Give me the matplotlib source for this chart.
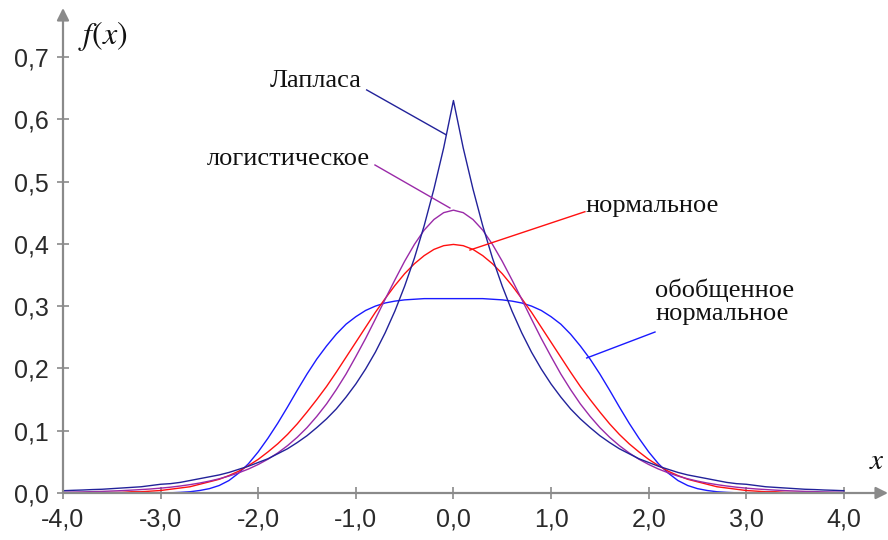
import numpy as np
import matplotlib
matplotlib.use("Agg")
import matplotlib.pyplot as plt

plt.rcParams['mathtext.fontset'] = 'stix'

# ---- data ----
x = np.round(np.arange(-40, 41) / 10.0, 1)   # -4.0 ... 4.0 step 0.1

laplace = [
    0.0037, 0.0043, 0.0048, 0.0055, 0.006, 0.007, 0.008, 0.009, 0.010, 0.012,
    0.014, 0.015, 0.017, 0.020, 0.023, 0.026, 0.029, 0.033, 0.038, 0.043,
    0.049, 0.055, 0.063, 0.071, 0.081, 0.092, 0.105, 0.119, 0.135, 0.154,
    0.175, 0.199, 0.226, 0.257, 0.292, 0.332, 0.377, 0.429, 0.488, 0.554,
    0.630,
    0.554, 0.488, 0.429, 0.377, 0.332, 0.292, 0.257, 0.226, 0.199, 0.175,
    0.154, 0.135, 0.119, 0.105, 0.092, 0.081, 0.071, 0.063, 0.055, 0.049,
    0.043, 0.038, 0.033, 0.029, 0.026, 0.023, 0.020, 0.017, 0.015, 0.014,
    0.012, 0.010, 0.009, 0.008, 0.007, 0.006, 0.0055, 0.0048, 0.0043, 0.0037]

logistic = [
    0.0013, 0.0015, 0.0018, 0.0022, 0.0026, 0.0032, 0.0038, 0.0046, 0.0055, 0.0065,
    0.0078, 0.0093, 0.0112, 0.0134, 0.0160, 0.0191, 0.0228, 0.0272, 0.0324, 0.0385,
    0.0458, 0.0543, 0.0643, 0.0760, 0.0895, 0.105, 0.123, 0.143, 0.166, 0.191,
    0.219, 0.248, 0.279, 0.311, 0.342, 0.372, 0.399, 0.422, 0.439, 0.450,
    0.454,
    0.450, 0.439, 0.422, 0.399, 0.372, 0.342, 0.311, 0.279, 0.248, 0.219,
    0.191, 0.166, 0.143, 0.123, 0.105, 0.0895, 0.0760, 0.0643, 0.0543, 0.0458,
    0.0385, 0.0324, 0.0272, 0.0228, 0.0191, 0.0160, 0.0134, 0.0112, 0.0093, 0.0078,
    0.0065, 0.0055, 0.0046, 0.0038, 0.0032, 0.0026, 0.0022, 0.0018, 0.0015, 0.0013]

normal = [
    0.0001, 0.0002, 0.0003, 0.0004, 0.001, 0.001, 0.001, 0.002, 0.002, 0.003,
    0.004, 0.006, 0.008, 0.010, 0.014, 0.018, 0.022, 0.028, 0.035, 0.044,
    0.054, 0.066, 0.079, 0.094, 0.111, 0.130, 0.150, 0.171, 0.194, 0.218,
    0.242, 0.266, 0.290, 0.312, 0.333, 0.352, 0.368, 0.381, 0.391, 0.397,
    0.399,
    0.397, 0.391, 0.381, 0.368, 0.352, 0.333, 0.312, 0.290, 0.266, 0.242,
    0.218, 0.194, 0.171, 0.150, 0.130, 0.111, 0.094, 0.079, 0.066, 0.054,
    0.044, 0.035, 0.028, 0.022, 0.018, 0.014, 0.010, 0.008, 0.006, 0.004,
    0.003, 0.002, 0.002, 0.001, 0.001, 0.001, 0.0004, 0.0003, 0.0002, 0.0001]

gen_normal = [
    0.0, 0.0, 0.0, 0.0, 0.0, 0.0, 0.0, 0.0, 0.0, 0.0,
    0.0001, 0.0003, 0.001, 0.002, 0.004, 0.007, 0.012, 0.020, 0.032, 0.047,
    0.066, 0.088, 0.112, 0.138, 0.165, 0.191, 0.215, 0.236, 0.255, 0.271,
    0.283, 0.293, 0.300, 0.305, 0.308, 0.310, 0.311, 0.312, 0.312, 0.312,
    0.312,
    0.312, 0.312, 0.312, 0.311, 0.310, 0.308, 0.305, 0.300, 0.293, 0.283,
    0.271, 0.255, 0.236, 0.215, 0.191, 0.165, 0.138, 0.112, 0.088, 0.066,
    0.047, 0.032, 0.020, 0.012, 0.007, 0.004, 0.002, 0.001, 0.0003, 0.0001,
    0.0, 0.0, 0.0, 0.0, 0.0, 0.0, 0.0, 0.0, 0.0, 0.0]

yticks = [0.0, 0.1, 0.2, 0.3, 0.4, 0.5, 0.6, 0.7]
ytick_labels = ["0,0", "0,1", "0,2", "0,3", "0,4", "0,5", "0,6", "0,7"]
xticks = [-4, -3, -2, -1, 0, 1, 2, 3, 4]
xtick_labels = ["-4,0", "-3,0", "-2,0", "-1,0", "0,0", "1,0", "2,0", "3,0", "4,0"]

names = ["Лапласа", "логистическое", "нормальное", "обобщенное\nнормальное"]

C_LAP = "#22229a"
C_LOG = "#9a2aa8"
C_NOR = "#ff1010"
C_GEN = "#1a1aff"
AXC = "#8a8a8a"

# ---- figure ----
fig = plt.figure(figsize=(8.88, 5.40), dpi=100)
ax = fig.add_axes([63 / 888, 47 / 540, (888 - 63) / 888, (532 - 47) / 540])
ax.set_xlim(-4, 4.452)
ax.set_ylim(0, 0.7785)

for s in ["top", "right", "left", "bottom"]:
    ax.spines[s].set_visible(False)

# axes with arrows
ax.annotate("", xy=(1.0, 0), xycoords="axes fraction", xytext=(0, 0),
            arrowprops=dict(arrowstyle="-|>", color=AXC, lw=1.6,
                            mutation_scale=18, shrinkA=0, shrinkB=0),
            annotation_clip=False)
ax.annotate("", xy=(0, 1.0), xycoords="axes fraction", xytext=(0, 0),
            arrowprops=dict(arrowstyle="-|>", color=AXC, lw=1.6,
                            mutation_scale=18, shrinkA=0, shrinkB=0),
            annotation_clip=False)

ax.set_xticks(xticks)
ax.set_xticklabels(xtick_labels)
ax.set_yticks(yticks)
ax.set_yticklabels(ytick_labels)
ax.tick_params(axis="both", colors=AXC, direction="inout", length=9, width=1.2,
               labelsize=18, labelcolor="#2a2a2a")
ax.tick_params(axis="x", pad=6)
ax.tick_params(axis="y", pad=6)
for lab in ax.get_xticklabels() + ax.get_yticklabels():
    lab.set_fontfamily("Liberation Sans")

lw = 1.0
ax.plot(x, gen_normal, color=C_GEN, lw=lw)
ax.plot(x, normal, color=C_NOR, lw=lw)
ax.plot(x, logistic, color=C_LOG, lw=lw)
ax.plot(x, laplace, color=C_LAP, lw=lw)

serif = dict(family="Liberation Serif", fontsize=19, color="#111111")

# Laplace label
ax.text(-0.94, 0.652, names[0], ha="right", va="baseline", **serif)
ax.plot([-0.889, -0.075], [0.647, 0.575], color=C_LAP, lw=lw)
# logistic label
ax.text(-0.856, 0.527, names[1], ha="right", va="baseline", **serif)
ax.plot([-0.804, -0.036], [0.5265, 0.4575], color=C_LOG, lw=lw)
# normal label
ax.text(1.35, 0.451, names[2], ha="left", va="baseline", **serif)
ax.plot([1.347, 0.169], [0.4515, 0.390], color=C_NOR, lw=lw)
# generalized normal label
ax.text(2.065, 0.2777, names[3], ha="left", va="baseline", linespacing=1.05, **serif)
ax.plot([2.065, 1.365], [0.2584, 0.2167], color=C_GEN, lw=lw)

# axis titles
ax.text(-3.85, 0.7335, r"$f(x)$", fontsize=23, ha="left", va="center", color="#111111")
ax.text(4.34, 0.0514, r"$x$", fontsize=21, ha="center", va="center", color="#111111")

fig.savefig("out.png", dpi=100)
